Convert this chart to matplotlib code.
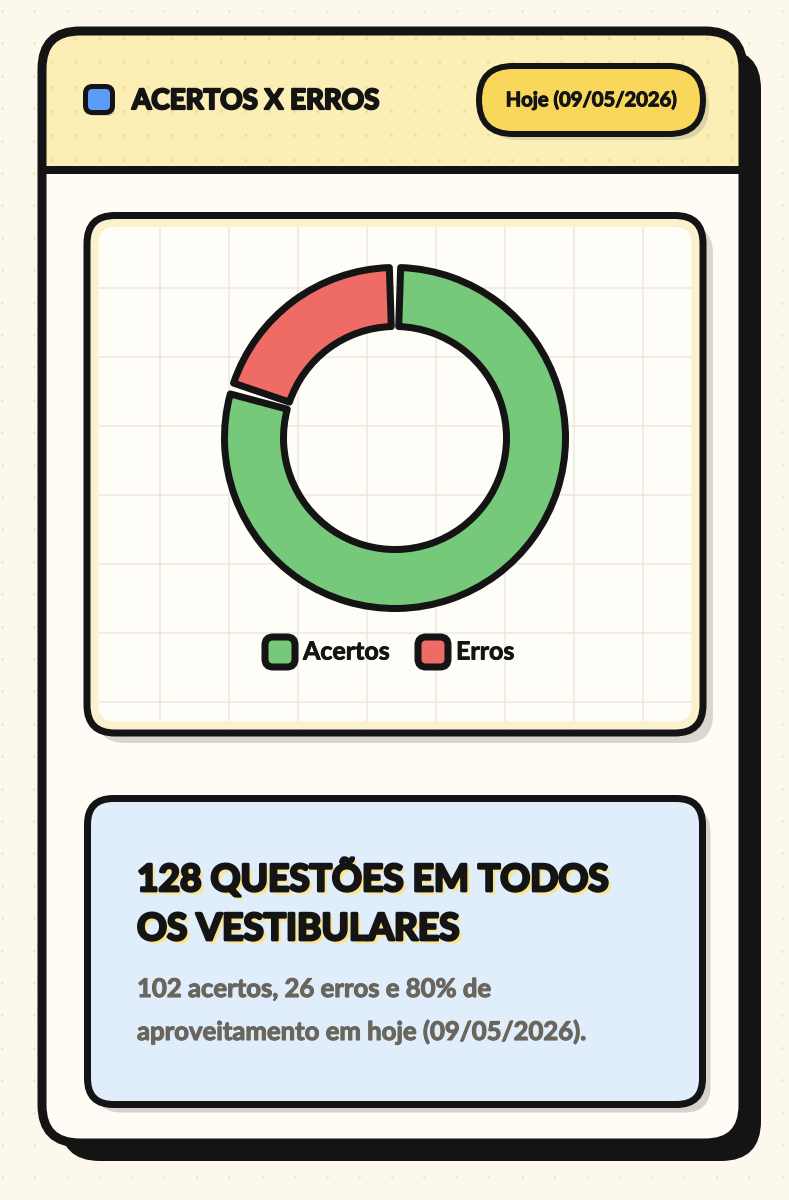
import numpy as np
import matplotlib.pyplot as plt
import matplotlib.patheffects as pe
from matplotlib.patches import FancyBboxPatch, Rectangle

# Dados do gráfico
categorias = ['Acertos', 'Erros']
valores = [102, 26]
cores = ['#76c97a', '#ee6b66']

titulo = 'ACERTOS X ERROS'
periodo = 'Hoje (09/05/2026)'
resumo_titulo = ['128 QUESTÕES EM TODOS', 'OS VESTIBULARES']
resumo_texto = ['102 acertos, 26 erros e 80% de', 'aproveitamento em hoje (09/05/2026).']

# Tamanho da figura (pixels)
W, H = 789, 1200
PRETO = '#141414'
PX = 0.72  # 1 px em pontos com dpi 100
FONTE = ['Lato', 'DejaVu Sans']

fig = plt.figure(figsize=(W / 100, H / 100), dpi=100)
fig.patch.set_facecolor('#fcf8eb')
ax = fig.add_axes([0, 0, 1, 1])
ax.set_xlim(0, W)
ax.set_ylim(H, 0)
ax.axis('off')


def caixa(x0, y0, x1, y1, r, fc, ec='none', lw=0, z=1):
    p = FancyBboxPatch((x0, y0), x1 - x0, y1 - y0,
                       boxstyle=f'round,pad=0,rounding_size={r}',
                       facecolor=fc, edgecolor=ec, linewidth=lw * PX, zorder=z)
    ax.add_patch(p)
    return p


# contorno extra para engrossar a fonte
grosso = [pe.withStroke(linewidth=1.6, foreground=PRETO)]

# Fundo pontilhado
gx, gy = np.meshgrid(np.arange(2, W, 32.5), np.arange(11, H, 32.4))
ax.scatter(gx.ravel(), gy.ravel(), s=4, color='#ebe5d2', linewidths=0, zorder=0)

# Cartão principal
caixa(42 + 18, 31 + 18, 743 + 18, 1143 + 18, 40, PRETO, z=1)
corpo = caixa(42, 31, 743, 1143, 38, '#fefcf4', z=2)

# Cabeçalho
cab = Rectangle((42, 31), 701, 139, facecolor='#fcefb5', edgecolor='none', zorder=3)
ax.add_patch(cab)
cab.set_clip_path(corpo)
hx, hy = np.meshgrid(np.arange(2, W, 24.3), np.arange(13.7, 168, 24.3))
pts = ax.scatter(hx.ravel(), hy.ravel(), s=6, color='#f1df9c', linewidths=0, zorder=3.5)
pts.set_clip_path(corpo)
ax.plot([42, 743], [170, 170], color=PRETO, lw=8 * PX, zorder=4, solid_capstyle='butt')
caixa(42, 31, 743, 1143, 38, 'none', PRETO, 9, z=5)

# Ícone e título
caixa(88, 89, 115, 116, 7, '#d4cfb3', z=6)
caixa(85.5, 86.5, 112.5, 112.5, 7, '#5b9cf6', PRETO, 5, z=7)
ax.text(132, 101, titulo, fontsize=20, fontweight='bold', family=FONTE,
        color=PRETO, va='center', ha='left', zorder=8, path_effects=grosso)

# Selo da data
caixa(485, 72, 709, 140, 34, '#dcd3a6', z=6)
caixa(479, 66, 703, 134, 34, '#f9d75b', PRETO, 6, z=7)
ax.text(591, 100, periodo, fontsize=14.5, fontweight='bold', family=FONTE,
        color=PRETO, va='center', ha='center', zorder=8,
        path_effects=[pe.withStroke(linewidth=0.8, foreground=PRETO)])

# Painel do gráfico
caixa(97, 225.5, 713, 743, 28, '#d9d7cf', z=6)
painel = caixa(87, 215.5, 703, 733, 28, '#fefdf7', z=7)
for x in np.arange(91, 703, 69):
    ln, = ax.plot([x, x], [215, 733], color='#ebe8df', lw=1.5 * PX, zorder=7.5)
    ln.set_clip_path(painel)
for y in np.arange(219, 733, 69):
    ln, = ax.plot([87, 703], [y, y], color='#ebe8df', lw=1.5 * PX, zorder=7.5)
    ln.set_clip_path(painel)
caixa(94.5, 223, 695.5, 725.5, 21, 'none', '#fbf1cc', 8, z=8)
caixa(87, 215.5, 703, 733, 28, 'none', PRETO, 7, z=9)

# Rosca (donut)
cx, cy, R, meia = 395, 438, 170.5, 190
lim = meia / R
axp = fig.add_axes([(cx - meia) / W, (H - cy - meia) / H, 2 * meia / W, 2 * meia / H])
fatias, _ = axp.pie(valores, colors=cores, startangle=90, counterclock=False, radius=1,
                    wedgeprops=dict(width=0.346, edgecolor=PRETO, linewidth=7 * PX,
                                    joinstyle='round'))
# pequeno espaço angular entre as fatias
for f in fatias:
    f.set_theta1(f.theta1 + 1.9)
    f.set_theta2(f.theta2 - 1.9)
axp.set_xlim(-lim, lim)
axp.set_ylim(-lim, lim)
axp.set_aspect('equal')
axp.axis('off')

# Legenda
leg_x = [280, 433]
for cat, cor, lx in zip(categorias, cores, leg_x):
    caixa(lx - 15, 652 - 15, lx + 15, 652 + 15, 8, cor, PRETO, 7, z=10)
    ax.text(lx + 23, 652, cat, fontsize=18, fontweight='bold', family=FONTE,
            color=PRETO, va='center', ha='left', zorder=10,
            path_effects=[pe.withStroke(linewidth=0.6, foreground=PRETO)])

# Caixa de resumo
caixa(95.5, 806.5, 710.5, 1112.5, 26, '#d5d3cb', z=6)
caixa(87.5, 798.5, 702.5, 1104.5, 26, '#e0eefb', PRETO, 7, z=7)
sombra_amarela = [pe.withSimplePatchShadow(offset=(2.5, -2.5), shadow_rgbFace='#fde58c', alpha=1.0),
                  pe.withStroke(linewidth=2, foreground=PRETO)]
for linha, yb in zip(resumo_titulo, [891, 940]):
    ax.text(137, yb, linha, fontsize=26.7, fontweight='bold', family=FONTE,
            color=PRETO, va='baseline', ha='left', zorder=9, path_effects=sombra_amarela)
for linha, yb in zip(resumo_texto, [997, 1040]):
    ax.text(137, yb, linha, fontsize=18.5, fontweight='bold', family=FONTE,
            color='#6a655d', va='baseline', ha='left', zorder=9,
            path_effects=[pe.withStroke(linewidth=0.8, foreground='#6a655d')])

fig.savefig('out.png', dpi=100, facecolor=fig.get_facecolor())
